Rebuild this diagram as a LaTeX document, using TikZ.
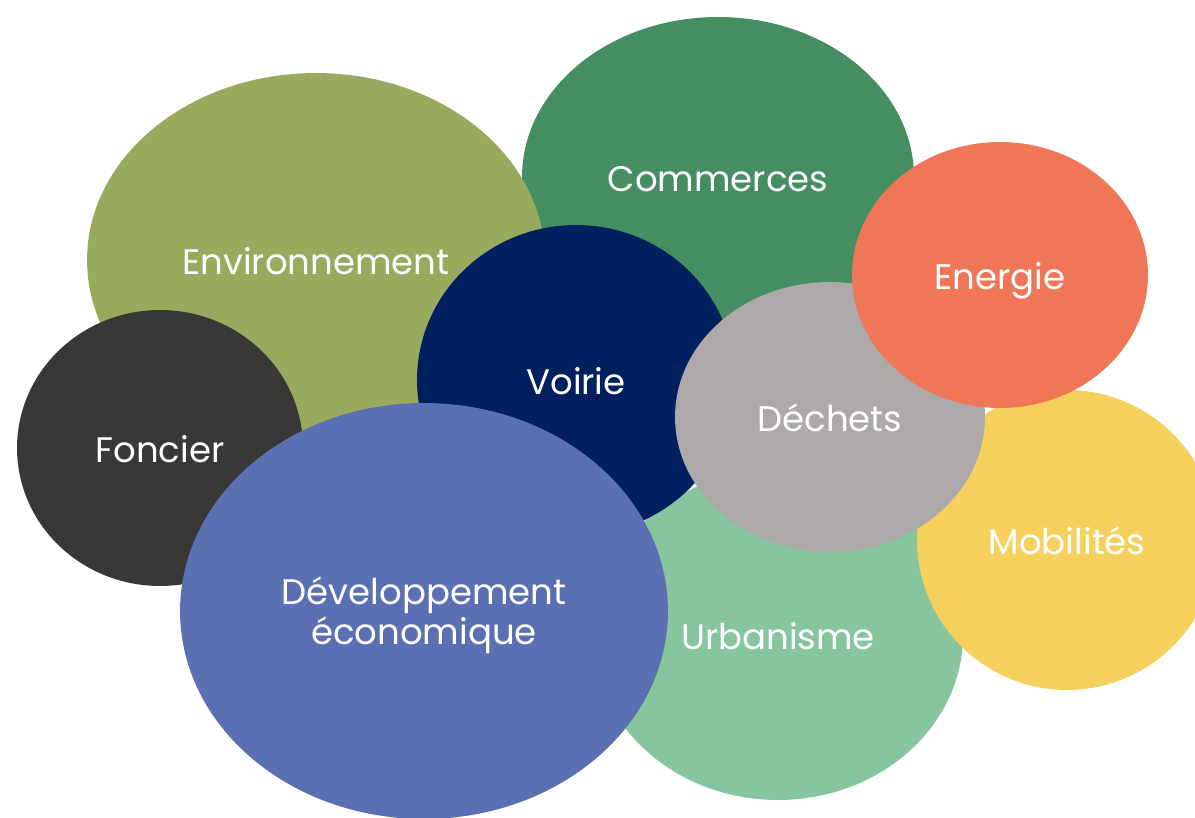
\documentclass[tikz,border=0pt]{standalone}
\usepackage{fontspec}
\setmainfont{Poppins}
\usetikzlibrary{shapes.geometric}

\definecolor{envgreen}{HTML}{97AA5D}
\definecolor{comgreen}{HTML}{458E62}
\definecolor{energorange}{HTML}{EF7758}
\definecolor{mobyellow}{HTML}{F6D05C}
\definecolor{urbgreen}{HTML}{87C59E}
\definecolor{dechgrey}{HTML}{ADA9A8}
\definecolor{voirnavy}{HTML}{00205F}
\definecolor{foncdark}{HTML}{3A3836}
\definecolor{devblue}{HTML}{5A70B2}

\begin{document}
\begin{tikzpicture}[x=0.02cm, y=-0.02cm,
  bubble/.style={ellipse, draw=none, inner sep=0pt, text=white, align=center,
    text height=16pt, text depth=0pt,
    font=\fontsize{20.2}{22.8}\selectfont}]
\useasboundingbox (0,0) rectangle (1195,817);
\clip (0,0) rectangle (1195,817);
% back to front
\node[bubble, fill=comgreen, minimum width=7.84cm, minimum height=6.4cm] (commerces) at (718,177) {Commerces};
\node[bubble, fill=envgreen, minimum width=9.16cm, minimum height=7.48cm] (environnement) at (316,260) {Environnement};
\node[bubble, fill=foncdark, minimum width=5.72cm, minimum height=5.52cm] (foncier) at (160,448) {Foncier};
\node[bubble, fill=urbgreen, minimum width=7.4cm, minimum height=6.6cm] (urbanisme) at (778,635) {Urbanisme};
\node[bubble, fill=voirnavy, minimum width=6.36cm, minimum height=6.2cm] (voirie) at (576,380) {Voirie};
\node[bubble, fill=mobyellow, minimum width=6cm, minimum height=6cm] (mobilites) at (1067,540) {Mobilités};
\node[bubble, fill=dechgrey, minimum width=6.2cm, minimum height=5.4cm] (dechets) at (830,417) {Déchets};
\node[bubble, fill=energorange, minimum width=5.92cm, minimum height=5.32cm] (energie) at (1000,275) {Energie};
\node[bubble, fill=devblue, minimum width=9.76cm, minimum height=8.32cm, text height=] (developpement) at (424,611) {Développement\\économique};
\end{tikzpicture}
\end{document}
